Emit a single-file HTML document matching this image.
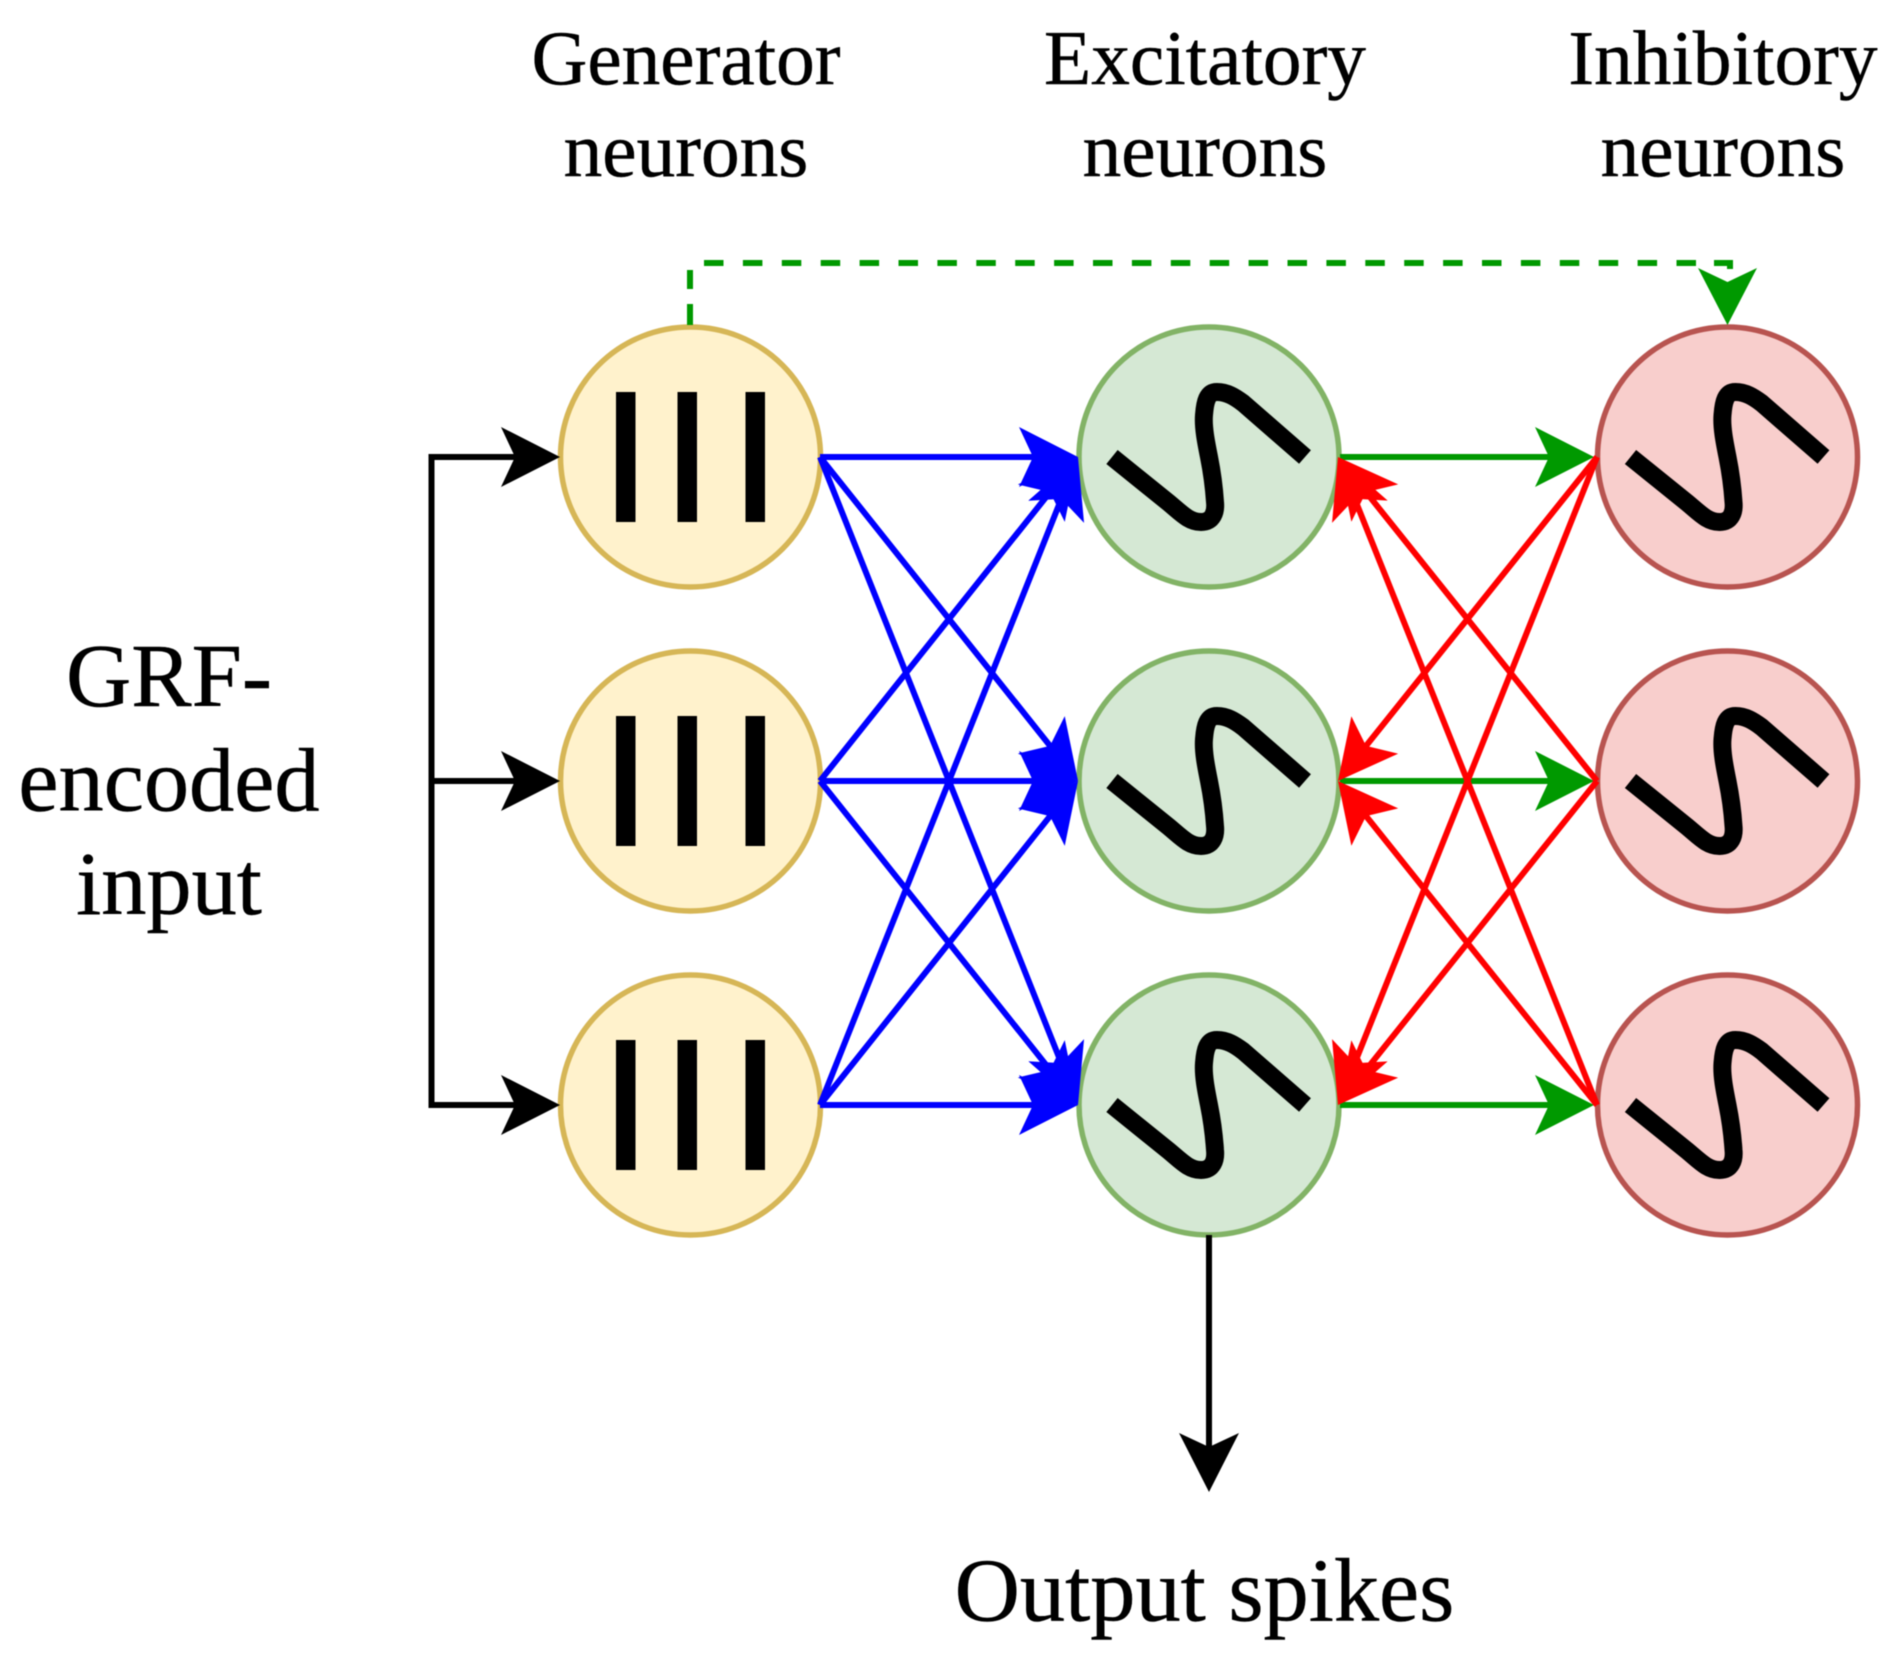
<!DOCTYPE html>
<html>
<head>
<meta charset="utf-8">
<style>
html,body{margin:0;padding:0;background:#fff;width:1890px;height:1667px;overflow:hidden}
svg{display:block;filter:blur(.5px)}
text{font-family:"Liberation Serif",serif;fill:#000;stroke:#000;stroke-width:.5;text-anchor:middle}
.t{font-size:77.3px}
.b{font-size:90.4px}
.s{fill:none;stroke:#000;stroke-width:18}
</style>
</head>
<body>
<svg width="1890" height="1667" viewBox="0 0 1890 1667" xmlns="http://www.w3.org/2000/svg">
<defs>
<marker id="ab" markerUnits="userSpaceOnUse" markerWidth="70" markerHeight="70" refX="49" refY="30" orient="auto"><path d="M0 0L59 30L0 60L14 30Z" fill="#00f"/></marker>
<marker id="ar" markerUnits="userSpaceOnUse" markerWidth="70" markerHeight="70" refX="49" refY="30" orient="auto"><path d="M0 0L59 30L0 60L14 30Z" fill="#f00"/></marker>
<marker id="ag" markerUnits="userSpaceOnUse" markerWidth="70" markerHeight="70" refX="49" refY="30" orient="auto"><path d="M0 0L59 30L0 60L14 30Z" fill="#090"/></marker>
<path id="sine" d="M-97 0L-40 46C-28 56-20 65-8 65C4 65 7 55 6 45C5 30 3 15 0 0C-3-15-6-30-5-42C-4-55-2-65 8-65C18-65 26-60 34-54L96 0"/>
</defs>

<!-- Neurons -->
<g fill="#fff2cc" stroke="#d6b656" stroke-width="5.5">
<circle cx="690.5" cy="457" r="130"/><circle cx="690.5" cy="781" r="130"/><circle cx="690.5" cy="1105" r="130"/>
</g>
<g fill="#d5e8d4" stroke="#82b366" stroke-width="5.5">
<circle cx="1209" cy="457" r="130"/><circle cx="1209" cy="781" r="130"/><circle cx="1209" cy="1105" r="130"/>
</g>
<g fill="#f8cecc" stroke="#b85450" stroke-width="5.5">
<circle cx="1727.5" cy="457" r="130"/><circle cx="1727.5" cy="781" r="130"/><circle cx="1727.5" cy="1105" r="130"/>
</g>

<!-- Generator bars -->
<g fill="#000">
<rect x="616" y="392" width="19.5" height="130"/><rect x="677.5" y="392" width="19.5" height="130"/><rect x="745.5" y="392" width="19.5" height="130"/>
<rect x="616" y="716" width="19.5" height="130"/><rect x="677.5" y="716" width="19.5" height="130"/><rect x="745.5" y="716" width="19.5" height="130"/>
<rect x="616" y="1040" width="19.5" height="130"/><rect x="677.5" y="1040" width="19.5" height="130"/><rect x="745.5" y="1040" width="19.5" height="130"/>
</g>

<!-- Sine symbols -->
<use href="#sine" class="s" x="1209" y="457"/>
<use href="#sine" class="s" x="1209" y="781"/>
<use href="#sine" class="s" x="1209" y="1105"/>
<use href="#sine" class="s" x="1727.5" y="457"/>
<use href="#sine" class="s" x="1727.5" y="781"/>
<use href="#sine" class="s" x="1727.5" y="1105"/>

<!-- Input connectors -->
<g fill="none" stroke="#000" stroke-width="6">
<path d="M550 457H431.5V1105H550" stroke-linejoin="miter"/>
<path d="M431.5 781H550"/>
<path d="M1209 1235V1482"/>
</g>
<path d="M560 457L501 427L515 457L501 487Z" fill="#000"/>
<path d="M560 781L501 751L515 781L501 811Z" fill="#000"/>
<path d="M560 1105L501 1075L515 1105L501 1135Z" fill="#000"/>
<path d="M1209 1492L1179 1433L1209 1447L1239 1433Z" fill="#000"/>

<!-- Blue connectors -->
<g fill="none" stroke="#00f" stroke-width="6">
<path d="M820 457L1068 457" marker-end="url(#ab)"/>
<path d="M820 457L1071.8 773.2" marker-end="url(#ab)"/>
<path d="M820 457L1074.3 1095.7" marker-end="url(#ab)"/>
<path d="M820 781L1071.8 464.8" marker-end="url(#ab)"/>
<path d="M820 781L1068 781" marker-end="url(#ab)"/>
<path d="M820 781L1071.8 1097.2" marker-end="url(#ab)"/>
<path d="M820 1105L1074.3 466.3" marker-end="url(#ab)"/>
<path d="M820 1105L1071.8 788.8" marker-end="url(#ab)"/>
<path d="M820 1105L1068 1105" marker-end="url(#ab)"/>
</g>

<!-- Green connectors -->
<g fill="none" stroke="#090" stroke-width="6">
<path d="M1340 457L1584 457" marker-end="url(#ag)"/>
<path d="M1340 781L1584 781" marker-end="url(#ag)"/>
<path d="M1340 1105L1584 1105" marker-end="url(#ag)"/>
</g>

<!-- Red connectors -->
<g fill="none" stroke="#f00" stroke-width="6">
<path d="M1597 457L1344.2 773.2" marker-end="url(#ar)"/>
<path d="M1597 457L1341.7 1095.7" marker-end="url(#ar)"/>
<path d="M1597 781L1344.2 464.8" marker-end="url(#ar)"/>
<path d="M1597 781L1344.2 1097.2" marker-end="url(#ar)"/>
<path d="M1597 1105L1341.7 466.3" marker-end="url(#ar)"/>
<path d="M1597 1105L1344.2 788.8" marker-end="url(#ar)"/>
</g>

<!-- Dashed feedback connector -->
<g fill="none" stroke="#090" stroke-width="6">
<path d="M690 325V304M690 289V270"/>
<path d="M704 263H1715" stroke-dasharray="19.5 19.4"/>
<path d="M1714 263H1730V269"/>
</g>
<path d="M1727.5 325L1698 268L1727.5 282L1757 268Z" fill="#090"/>

<!-- Labels -->
<text class="t" x="686" y="84">Generator</text>
<text class="t" x="686" y="176">neurons</text>
<text class="t" x="1205" y="84">Excitatory</text>
<text class="t" x="1205" y="176">neurons</text>
<text class="t" x="1723" y="84">Inhibitory</text>
<text class="t" x="1723" y="176">neurons</text>
<text class="b" x="169" y="706">GRF-</text>
<text class="b" x="169" y="810.5">encoded</text>
<text class="b" x="169" y="914">input</text>
<text class="b" x="1204.5" y="1620.5">Output spikes</text>
</svg>
</body>
</html>
